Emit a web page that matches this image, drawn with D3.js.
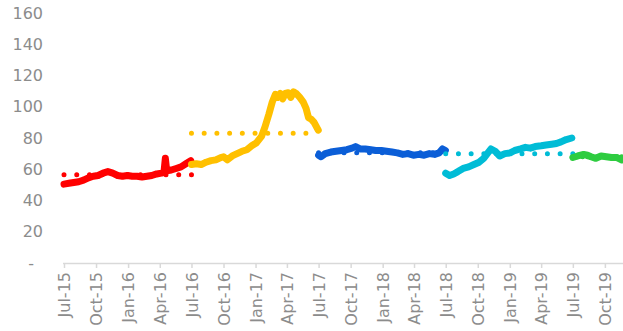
<!DOCTYPE html>
<html><head><meta charset="utf-8">
<script src="https://cdn.jsdelivr.net/npm/d3@7/dist/d3.min.js"></script>
<style>html,body{margin:0;padding:0;background:#fff;}svg{display:block;}</style>
</head><body><svg id="c" width="623" height="331"></svg>
<script>
// ---- data ----
const yTicks = [0, 20, 40, 60, 80, 100, 120, 140, 160];
const xTickDates = ["2015-07-01","2015-10-01","2016-01-01","2016-04-01","2016-07-01","2016-10-01","2017-01-01","2017-04-01","2017-07-01","2017-10-01","2018-01-01","2018-04-01","2018-07-01","2018-10-01","2019-01-01","2019-04-01","2019-07-01","2019-10-01"];

const redDates = ["2015-07-01","2015-07-15","2015-07-29","2015-08-12","2015-08-26","2015-09-09","2015-09-23","2015-10-07","2015-10-21","2015-11-04","2015-11-18","2015-12-02","2015-12-16","2015-12-30","2016-01-13","2016-01-27","2016-02-10","2016-02-24","2016-03-09","2016-03-23","2016-04-06","2016-04-13","2016-04-17","2016-04-21","2016-05-04","2016-05-18","2016-06-01","2016-06-15","2016-06-29"];
const redValues = [50.5,51,51.5,52,53,54.5,55.5,56,57.5,58.5,57.5,56,55.5,56,55.5,55.5,55,55.5,56,57,57.5,58,67,59,59.5,60.5,61.5,63.5,65.5];

const yellowDates = ["2016-07-01","2016-07-15","2016-07-29","2016-08-12","2016-08-26","2016-09-09","2016-09-23","2016-10-01","2016-10-12","2016-10-26","2016-11-09","2016-11-23","2016-12-07","2016-12-21","2017-01-04","2017-01-18","2017-01-28","2017-02-08","2017-02-18","2017-02-27","2017-03-06","2017-03-13","2017-03-20","2017-03-27","2017-04-05","2017-04-12","2017-04-20","2017-04-28","2017-05-08","2017-05-18","2017-05-26","2017-06-02","2017-06-10","2017-06-18","2017-06-30"];
const yellowValues = [63,63.5,63,64.5,65.5,66,67.5,68,66,68.5,70,71.5,72.5,75,77,81,87,95,103,108,106,108.5,105,108.5,109,106,109.5,108.5,106,103,99,93,92,90,85];

const blueDates = ["2017-07-01","2017-07-08","2017-07-20","2017-08-05","2017-08-20","2017-09-05","2017-09-20","2017-10-05","2017-10-15","2017-10-28","2017-11-12","2017-11-28","2017-12-12","2017-12-28","2018-01-12","2018-01-28","2018-02-12","2018-02-28","2018-03-15","2018-03-30","2018-04-15","2018-04-30","2018-05-15","2018-05-30","2018-06-12","2018-06-22","2018-06-30"];
const blueValues = [69,68,70,71,71.5,72,72.5,73.5,74.5,73,73,72.5,72,72,71.5,71,70.5,69.5,70,69,69.5,69,70,69.5,70.5,73,72];

const cyanDates = ["2018-07-01","2018-07-12","2018-07-24","2018-08-05","2018-08-20","2018-09-05","2018-09-20","2018-10-05","2018-10-18","2018-10-30","2018-11-08","2018-11-20","2018-12-03","2018-12-18","2019-01-02","2019-01-15","2019-02-01","2019-02-15","2019-03-01","2019-03-15","2019-04-01","2019-04-15","2019-05-01","2019-05-15","2019-05-28","2019-06-12","2019-06-28"];
const cyanValues = [57.5,56,57,58.5,60.5,61.5,63,64.5,67,70.5,73,71.5,68.5,70,70.5,72,73,74,73.5,74.5,75,75.5,76,76.5,77.5,79,80];

const greenDates = ["2019-07-01","2019-07-15","2019-08-01","2019-08-12","2019-08-22","2019-09-05","2019-09-20","2019-10-05","2019-10-20","2019-11-05","2019-11-18"];
const greenValues = [67.5,68.5,69.5,69,68,67,68.5,68,67.5,67.5,66];

// dotted reference levels: [start, end, value]
const redLevel = ["2015-07-01","2016-07-01",56.5];
const yellowLevel = ["2016-07-01","2017-07-01",83];
const blueLevel = ["2017-07-01","2018-07-01",70.5];
const cyanLevel = ["2018-07-01","2019-07-01",70];
const greenLevel = ["2019-07-01","2019-11-18",68];

const xDomain = ["2015-07-01","2019-11-22"];

// ---- drawing ----
const parse = d3.utcParse("%Y-%m-%d");
const svg = d3.select("#c");
const x = d3.scaleUtc().domain(xDomain.map(parse)).range([64, 623]);
const y = d3.scaleLinear().domain([0, 160]).range([263, 13]);
const font = "'DejaVu Sans', sans-serif";
const grey = "#8c8c8c";

// y labels
const yAxis = svg.append("g").attr("transform","translate(43,0)")
  .call(d3.axisLeft(y).tickValues(yTicks).tickSize(0).tickPadding(0)
    .tickFormat(d => d === 0 ? "-" : d3.format("d")(d)));
yAxis.select(".domain").remove();
yAxis.selectAll("text").attr("font-family", font).attr("font-size", 16).attr("fill", grey)
  .attr("dx", d => d === 0 ? -9 : 0);

// x axis
const xAxis = svg.append("g").attr("transform","translate(0,263)")
  .call(d3.axisBottom(x).tickValues(xTickDates.map(parse)).tickSize(5).tickPadding(0)
    .tickSizeOuter(0).tickFormat(d3.utcFormat("%b-%y")));
xAxis.select(".domain").attr("stroke","#d9d9d9").attr("stroke-width",1.5).attr("d","M63,0.5H623");
xAxis.selectAll(".tick line").attr("stroke","#d9d9d9").attr("stroke-width",1.5);
xAxis.selectAll("text").attr("font-family", font).attr("font-size", 16).attr("fill", grey)
  .attr("text-anchor","end").attr("transform","rotate(-90)")
  .attr("x", -9).attr("y", 0).attr("dy","0.36em");

const line = d3.line().x(d => x(d[0])).y(d => y(d[1])).curve(d3.curveLinear);

function drawSeries(dates, values, level, color) {
  const x0 = x(parse(level[0])), x1 = x(parse(level[1])), yy = y(level[2]);
  const gap = (x1 - x0) / 10;
  svg.append("line").attr("x1", x0).attr("x2", x1).attr("y1", yy).attr("y2", yy)
    .attr("stroke", color).attr("stroke-width", 5).attr("stroke-linecap","round")
    .attr("stroke-dasharray", `0 ${gap}`);
  const pts = dates.map((d,i) => [parse(d), values[i]]);
  svg.append("path").attr("d", line(pts)).attr("fill","none").attr("stroke", color)
    .attr("stroke-width", 7).attr("stroke-linejoin","round").attr("stroke-linecap","round");
}

drawSeries(redDates, redValues, redLevel, "#FF0000");
drawSeries(yellowDates, yellowValues, yellowLevel, "#FFC000");
drawSeries(blueDates, blueValues, blueLevel, "#0B5ED7");
drawSeries(cyanDates, cyanValues, cyanLevel, "#00BCD6");
drawSeries(greenDates, greenValues, greenLevel, "#2ECC40");
</script></body></html>
